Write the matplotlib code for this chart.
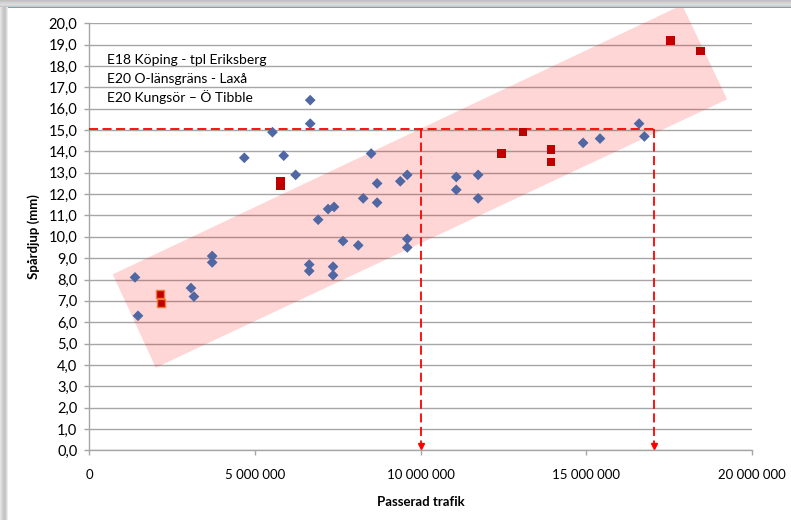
import matplotlib
matplotlib.use("Agg")
import matplotlib.pyplot as plt
from matplotlib.patches import Polygon, Rectangle
from matplotlib.ticker import FuncFormatter, MultipleLocator

plt.rcParams['font.family'] = ['Lato', 'DejaVu Sans']

# ---- data ----
series_names = ["E18 Köping - tpl Eriksberg", "E20 O-länsgräns - Laxå", "E20 Kungsör – Ö Tibble"]

blue_x = [1.38e6, 1.47e6, 3.07e6, 3.16e6, 3.71e6, 3.71e6, 4.68e6, 5.53e6, 5.87e6, 6.23e6,
          6.67e6, 6.67e6, 6.64e6, 6.64e6, 6.91e6, 7.21e6, 7.39e6, 7.36e6, 7.36e6, 7.66e6,
          8.12e6, 8.27e6, 8.51e6, 8.69e6, 8.69e6, 9.39e6, 9.60e6, 9.60e6, 9.60e6, 11.08e6,
          11.08e6, 11.74e6, 11.74e6, 14.91e6, 15.42e6, 16.60e6, 16.76e6]
blue_y = [8.1, 6.3, 7.6, 7.2, 9.1, 8.8, 13.7, 14.9, 13.8, 12.9,
          16.4, 15.3, 8.7, 8.4, 10.8, 11.3, 11.4, 8.6, 8.2, 9.8,
          9.6, 11.8, 13.9, 12.5, 11.6, 12.6, 12.9, 9.9, 9.5, 12.8,
          12.2, 12.9, 11.8, 14.4, 14.6, 15.3, 14.7]

red_x = [5.77e6, 5.77e6, 12.44e6, 13.09e6, 13.94e6, 13.94e6, 17.55e6, 18.45e6]
red_y = [12.6, 12.4, 13.9, 14.9, 14.1, 13.5, 19.2, 18.7]

orange_x = [2.13e6, 2.16e6]
orange_y = [7.3, 6.9]

band_x = [0.707e6, 2.006e6, 19.26e6, 17.90e6]
band_y = [8.24, 3.87, 16.44, 20.86]

level = 15.05
thresholds = [10.02e6, 17.04e6]

# ---- figure ----
fig = plt.figure(figsize=(7.91, 5.20), dpi=100)
fig.patch.set_facecolor('white')
W, H = 791.0, 520.0

ax = fig.add_axes([89.3 / W, 69.7 / H, (751.7 - 89.3) / W, (450.3 - 23.3) / H])
ax.set_facecolor('none')
ax.set_xlim(0, 20e6)
ax.set_ylim(0, 20)

ax.yaxis.set_major_locator(MultipleLocator(1.0))
ax.xaxis.set_major_locator(MultipleLocator(5e6))
ax.yaxis.set_major_formatter(FuncFormatter(lambda v, p: f"{v:.1f}".replace('.', ',')))
ax.xaxis.set_major_formatter(FuncFormatter(lambda v, p: f"{int(round(v)):,}".replace(',', ' ')))

ax.grid(axis='y', color='#a6a6a6', linewidth=1.0, zorder=1)
ax.set_axisbelow(True)
for s in ['top', 'right']:
    ax.spines[s].set_visible(False)
for s in ['left', 'bottom']:
    ax.spines[s].set_color('#a6a6a6')
    ax.spines[s].set_linewidth(1.0)
ax.tick_params(axis='both', colors='#a6a6a6', labelcolor='black',
               length=3.5, width=1.0, direction='out')
ax.tick_params(axis='x', pad=10, labelsize=9.5)
ax.tick_params(axis='y', pad=5, labelsize=10.5)

# pink band
band = Polygon(list(zip(band_x, band_y)), closed=True, transform=ax.transData,
               facecolor=(1.0, 0.0, 0.0, 0.16), edgecolor='none', clip_on=False, zorder=1.5)
ax.add_patch(band)

# dashed red guide lines
ax.plot([0, thresholds[-1]], [level, level], color='#ff0000', linestyle=(0, (5, 2.5)),
        linewidth=1.3, zorder=3, clip_on=False)
for t in thresholds:
    ax.plot([t, t], [level, 0.35], color='#ff0000', linestyle=(0, (5, 2.5)),
            linewidth=1.3, zorder=3)
    ax.plot([t], [0.2], marker='v', color='#ff0000', markersize=5, zorder=3, clip_on=False)

# points
ax.scatter(blue_x, blue_y, marker='D', s=30, color='#4f67a3', edgecolors='none', zorder=4)
ax.scatter(red_x, red_y, marker='s', s=38, color='#c00000', edgecolors='none', zorder=4)
ax.scatter(orange_x, orange_y, marker='s', s=38, color='#c00000', edgecolors='#f07838',
           linewidths=1.0, zorder=4)

# series labels
for i, name in enumerate(series_names):
    ax.text(0.53e6, 18.28 - i * 0.87, name, fontsize=10, va='center', ha='left',
            color='black', zorder=5)

ax.set_xlabel("Passerad trafik", fontsize=9.5, fontweight='bold', labelpad=11)
ax.set_ylabel("Spårdjup (mm)", fontsize=9.5, fontweight='bold', labelpad=6)

# window-like frame decorations (drawn on top)
grays = ['#e4e4e4', '#dadada', '#d0d0d0', '#c8c8c8', '#c4c4c4', '#c8c8c8', '#d8d8d8', '#ececec']
for i, g in enumerate(grays):
    fig.add_artist(Rectangle((i / W, 0), 1 / W, 1, transform=fig.transFigure,
                             facecolor=g, edgecolor='none', zorder=10))
tops = ['#c0c0c0', '#c8c8c8', '#d0d0d0', '#d6d6d6', '#dcdcdc', '#d4d4d4', '#c8c8c8']
for i, g in enumerate(tops):
    fig.add_artist(Rectangle((0, 1 - (i + 1) / H), 1, 1 / H, transform=fig.transFigure,
                             facecolor=g, edgecolor='none', zorder=10))
fig.add_artist(Rectangle((8 / W, 1 - 8 / H), 1, 1 / H, transform=fig.transFigure,
                         facecolor='#6aaab8', edgecolor='none', zorder=10))

fig.savefig("out.png", dpi=100, facecolor=fig.get_facecolor())
